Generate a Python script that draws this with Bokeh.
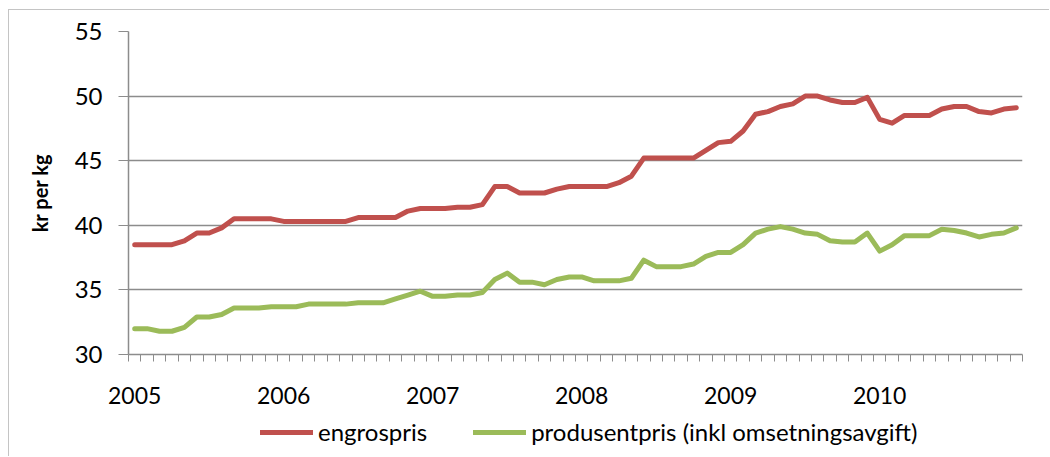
from bokeh.plotting import figure
from bokeh.models import (ColumnDataSource, Range1d, FixedTicker, Legend, LegendItem, Spacer)
from bokeh.layouts import column, row
from bokeh.embed import file_html
from bokeh.resources import INLINE

# ---- data ----
years = ["2005", "2006", "2007", "2008", "2009", "2010"]
months = [f"{y}-{m:02d}" for y in years for m in range(1, 13)]

engrospris = [
    38.5, 38.5, 38.5, 38.5, 38.8, 39.4, 39.4, 39.8, 40.5, 40.5, 40.5, 40.5,
    40.3, 40.3, 40.3, 40.3, 40.3, 40.3, 40.6, 40.6, 40.6, 40.6, 41.1, 41.3,
    41.3, 41.3, 41.4, 41.4, 41.6, 43.0, 43.0, 42.5, 42.5, 42.5, 42.8, 43.0,
    43.0, 43.0, 43.0, 43.3, 43.8, 45.2, 45.2, 45.2, 45.2, 45.2, 45.8, 46.4,
    46.5, 47.3, 48.6, 48.8, 49.2, 49.4, 50.0, 50.0, 49.7, 49.5, 49.5, 49.9,
    48.2, 47.9, 48.5, 48.5, 48.5, 49.0, 49.2, 49.2, 48.8, 48.7, 49.0, 49.1,
]
produsentpris = [
    32.0, 32.0, 31.8, 31.8, 32.1, 32.9, 32.9, 33.1, 33.6, 33.6, 33.6, 33.7,
    33.7, 33.7, 33.9, 33.9, 33.9, 33.9, 34.0, 34.0, 34.0, 34.3, 34.6, 34.9,
    34.5, 34.5, 34.6, 34.6, 34.8, 35.8, 36.3, 35.6, 35.6, 35.4, 35.8, 36.0,
    36.0, 35.7, 35.7, 35.7, 35.9, 37.3, 36.8, 36.8, 36.8, 37.0, 37.6, 37.9,
    37.9, 38.5, 39.4, 39.7, 39.9, 39.7, 39.4, 39.3, 38.8, 38.7, 38.7, 39.4,
    38.0, 38.5, 39.2, 39.2, 39.2, 39.7, 39.6, 39.4, 39.1, 39.3, 39.4, 39.8,
]
y_ticks = [30, 35, 40, 45, 50, 55]
series_names = ["engrospris", "produsentpris (inkl omsetningsavgift)"]

# month index -> category centre
x = [i + 0.5 for i in range(len(months))]
src = ColumnDataSource(dict(x=x, month=months, a=engrospris, b=produsentpris))

FONT = "Lato"
GRID = "#8c8c8c"
RED = "#C0504D"
GREEN = "#9BBB59"

p = figure(width=1040, height=405, output_backend="svg", toolbar_location=None,
           x_range=Range1d(0, len(months)), y_range=Range1d(y_ticks[0], y_ticks[-1]),
           min_border_left=119, min_border_right=27, min_border_top=21,
           min_border_bottom=61)
p.outline_line_color = None
p.background_fill_color = "white"
p.border_fill_color = "white"

p.line("x", "a", source=src, line_color=RED, line_width=5,
       line_join="round", line_cap="round")
p.line("x", "b", source=src, line_color=GREEN, line_width=5,
       line_join="round", line_cap="round")

# x axis: labels at January centres, monthly minor ticks at boundaries
jan_pos = [months.index(f"{y}-01") + 0.5 for y in years]
xa = p.xaxis[0]
xa.ticker = FixedTicker(ticks=jan_pos, minor_ticks=list(range(len(months) + 1)))
xa.major_label_overrides = {pos: y for pos, y in zip(jan_pos, years)}
xa.major_tick_line_color = None
xa.major_tick_out = 0
xa.major_tick_in = 0
xa.minor_tick_out = 7
xa.minor_tick_in = 0
xa.minor_tick_line_color = GRID
xa.axis_line_color = GRID
xa.axis_line_width = 1.5
xa.major_label_text_font = FONT
xa.major_label_text_font_size = "23px"
xa.major_label_text_color = "black"
xa.major_label_standoff = 25

ya = p.yaxis[0]
ya.ticker = FixedTicker(ticks=y_ticks)
ya.major_tick_out = 10
ya.major_tick_in = 0
ya.minor_tick_line_color = None
ya.major_tick_line_color = GRID
ya.axis_line_color = GRID
ya.axis_line_width = 1.5
ya.major_label_text_font = FONT
ya.major_label_text_font_size = "24px"
ya.major_label_text_color = "black"
ya.major_label_standoff = 16
ya.axis_label = "kr per kg"
ya.axis_label_text_font = FONT
ya.axis_label_text_font_style = "bold"
ya.axis_label_text_font_size = "20px"
ya.axis_label_text_color = "black"
ya.axis_label_standoff = 20

p.xgrid.grid_line_color = None
p.ygrid.ticker = FixedTicker(ticks=y_ticks)
p.ygrid.grid_line_color = GRID
p.ygrid.grid_line_width = 1.5

# legend strip (separate figure so the legend is not clipped)
lg = figure(width=1040, height=41, output_backend="svg", toolbar_location=None,
            x_axis_location=None, y_axis_location=None,
            x_range=Range1d(0, len(months)), y_range=Range1d(0, 1),
            min_border=0)
lg.outline_line_color = None
lg.grid.visible = False
lr1 = lg.line("x", "a", source=src, line_color=RED, line_width=5, line_cap="round")
lr2 = lg.line("x", "b", source=src, line_color=GREEN, line_width=5, line_cap="round")
legend = Legend(items=[LegendItem(label=series_names[0], renderers=[lr1]),
                       LegendItem(label=series_names[1], renderers=[lr2])],
                orientation="horizontal", location=(132, 10),
                glyph_width=53, glyph_height=22, label_standoff=5, spacing=46,
                padding=0, margin=0, border_line_color=None,
                background_fill_alpha=0,
                label_text_font=FONT, label_text_font_size="24px",
                label_text_color="black")
lg.add_layout(legend, "center")

box = column(p, lg, spacing=0)
box.styles = {"border-left": "1px solid #c4c4c4", "border-top": "1px solid #c4c4c4"}
page = row(Spacer(width=8), column(Spacer(height=9), box, spacing=0), spacing=0)

open("out.html", "w").write(file_html(page, INLINE))
